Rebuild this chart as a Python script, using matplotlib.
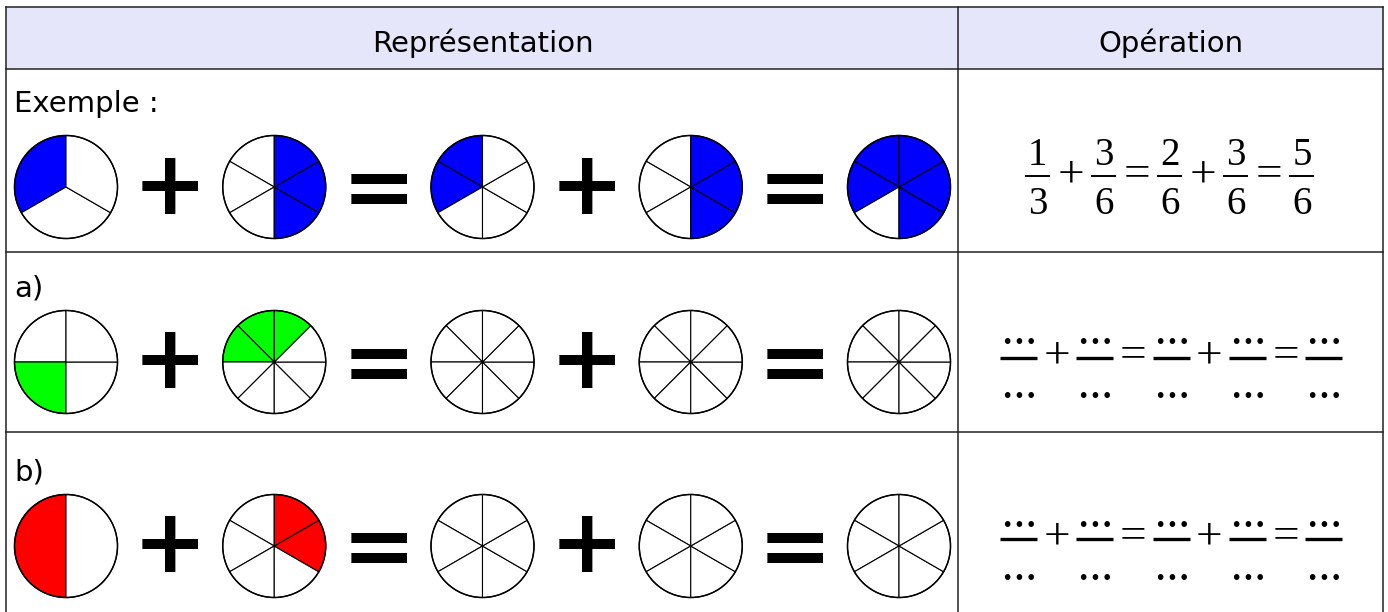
import matplotlib
matplotlib.use("Agg")
import matplotlib.pyplot as plt
from matplotlib.patches import Wedge, Circle, Rectangle

W, H = 1388, 612

# --- content -------------------------------------------------------------
HEADERS = ["Représentation", "Opération"]
ROW_LABELS = ["Exemple :", "a)", "b)"]
# number of equal parts in each of the five discs of a row
PARTS = [
    [3, 6, 6, 6, 6],
    [4, 8, 8, 8, 8],
    [2, 6, 6, 6, 6],
]
# shaded parts, counted anticlockwise from the top of the disc
SHADED = [
    [[0], [3, 4, 5], [0, 1], [3, 4, 5], [0, 1, 3, 4, 5]],
    [[1], [7, 0, 1], [], [], []],
    [[0], [4, 5], [], [], []],
]
FILL_COLORS = ["#0000ff", "#00ff00", "#ff0000"]
SIGNS = ["+", "=", "+", "="]
NUMERATORS = [
    ["1", "3", "2", "3", "5"],
    ["\u2026"] * 5,
    ["\u2026"] * 5,
]
DENOMINATORS = [
    ["3", "6", "6", "6", "6"],
    ["\u2026"] * 5,
    ["\u2026"] * 5,
]

# --- layout (pixels, measured from the top) -------------------------------
X_LEFT, X_MID, X_RIGHT = 6.5, 958.5, 1383
Y_LINES = [6.5, 69, 251.5, 432]
HEADER_BG = "#e6e6fa"
PIE_X0, PIE_DX, PIE_R = 66, 208.25, 51.5
PIE_Y = [187, 362, 546]
SIGN_DY = {"+": 2, "=": 5.5}
LABEL_Y = [112, 297, 480]
OP_X0 = [1037.5, 1018.5, 1018.5]
OP_DX = [66.1, 76.3, 76.3]
BAR_Y = [175.7, 358.3, 539.3]
BAR_W = [25, 37, 37]
BAR_LW = [1.4, 2.4, 2.4]
NUM_GAP = [10.5, 14, 12.5]
DEN_GAP = [38.5, 40, 40.5]
FRAC_SIZE = [28, 25, 25]
FRAC_WEIGHT = ["normal", "bold", "bold"]
OPSIGN_DY = [11, 9, 9]


def Y(y):
    return H - y


def disc(ax, cx, cy, n, shaded, color):
    step = 360 / n
    for k in range(n):
        a1 = 90 + k * step
        fc = color if k in shaded else "white"
        ax.add_patch(Wedge((cx, Y(cy)), PIE_R, a1, a1 + step,
                           facecolor=fc, edgecolor="black", lw=0.8))
    ax.add_patch(Circle((cx, Y(cy)), PIE_R, fill=False, edgecolor="black", lw=1.1))


def main():
    fig = plt.figure(figsize=(W / 100, H / 100), dpi=100)
    ax = fig.add_axes([0, 0, 1, 1])
    ax.set_xlim(0, W)
    ax.set_ylim(0, H)
    ax.axis("off")

    # table
    ax.add_patch(Rectangle((X_LEFT, Y(Y_LINES[1])), X_RIGHT - X_LEFT, Y_LINES[1] - Y_LINES[0],
                           facecolor=HEADER_BG, edgecolor="none"))
    for yl in Y_LINES:
        ax.plot([X_LEFT, X_RIGHT], [Y(yl), Y(yl)], color="#222222", lw=1.1)
    for xl in (X_LEFT, X_MID, X_RIGHT):
        ax.plot([xl, xl], [Y(Y_LINES[0]), 0], color="#222222", lw=1.1)

    hy = (Y_LINES[0] + Y_LINES[1]) / 2 + 6
    ax.text((X_LEFT + X_MID) / 2, Y(hy), HEADERS[0], ha="center", va="center", fontsize=21)
    ax.text((X_MID + X_RIGHT) / 2, Y(hy), HEADERS[1], ha="center", va="center", fontsize=21)

    for r in range(3):
        ax.text(X_LEFT + 8, Y(LABEL_Y[r]), ROW_LABELS[r], ha="left", va="baseline", fontsize=21)

        # discs and big signs
        for i in range(5):
            disc(ax, PIE_X0 + i * PIE_DX, PIE_Y[r], PARTS[r][i], SHADED[r][i], FILL_COLORS[r])
        for i, s in enumerate(SIGNS):
            ax.text(PIE_X0 + (i + 0.5) * PIE_DX, Y(PIE_Y[r] + SIGN_DY[s]), s,
                    ha="center", va="center", fontsize=64, fontweight="bold", color="black")

        # operation column
        for i in range(5):
            x = OP_X0[r] + i * OP_DX[r]
            ax.plot([x - BAR_W[r] / 2, x + BAR_W[r] / 2], [Y(BAR_Y[r])] * 2,
                    color="black", lw=BAR_LW[r], solid_capstyle="butt")
            ax.text(x, Y(BAR_Y[r] - NUM_GAP[r]), NUMERATORS[r][i], ha="center", va="baseline",
                    fontsize=FRAC_SIZE[r], fontweight=FRAC_WEIGHT[r], family="Liberation Serif")
            ax.text(x, Y(BAR_Y[r] + DEN_GAP[r]), DENOMINATORS[r][i], ha="center", va="baseline",
                    fontsize=FRAC_SIZE[r], fontweight=FRAC_WEIGHT[r], family="Liberation Serif")
        for i, s in enumerate(SIGNS):
            x = OP_X0[r] + (i + 0.5) * OP_DX[r]
            ax.text(x, Y(BAR_Y[r] + OPSIGN_DY[r]), s, ha="center", va="baseline",
                    fontsize=34, family="Liberation Serif")

    fig.savefig("out.png", dpi=100)


if __name__ == "__main__":
    main()
